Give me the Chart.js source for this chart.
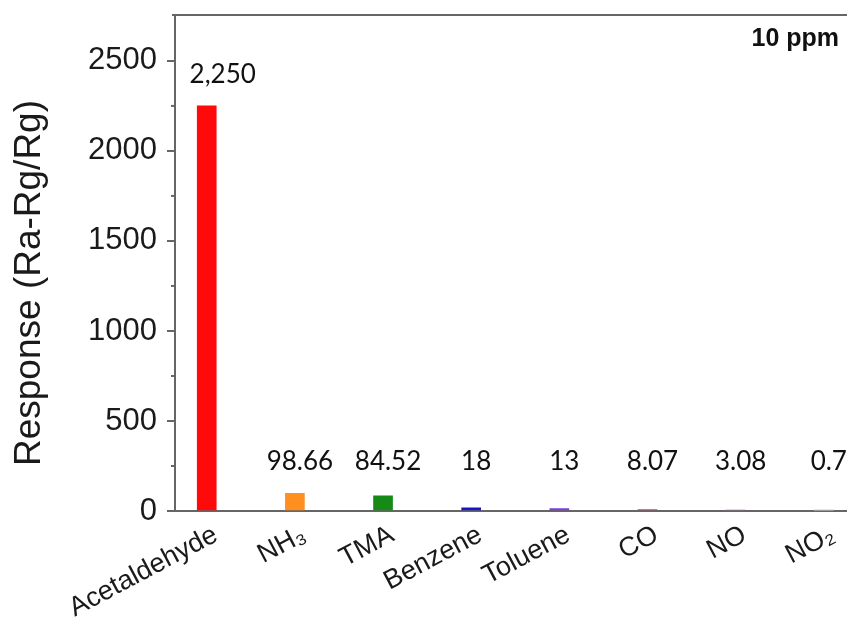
<!DOCTYPE html>
<html>
<head>
<meta charset="utf-8">
<script src="https://cdn.jsdelivr.net/npm/chart.js@4.4.1/dist/chart.umd.min.js"></script>
<style>
  body { margin: 0; background: #fff; overflow: hidden; }
  #wrap { width: 847px; height: 622px; }
</style>
</head>
<body>
<div id="wrap"><canvas id="gasChart" width="847" height="622"></canvas></div>
<script>
// gases tested at 10 ppm
const categories = ['Acetaldehyde', 'NH₃', 'TMA', 'Benzene', 'Toluene', 'CO', 'NO', 'NO₂'];
const responses = [2250, 98.66, 84.52, 18, 13, 8.07, 3.08, 0.7];
const valueLabels = ['2,250', '98.66', '84.52', '18', '13', '8.07', '3.08', '0.7'];
const barColors = ['#ff0a0a', '#ff8f1f', '#168a16', '#1616c4', '#7e3fd2', '#c2407e', '#7a6a7a', '#9a9a9a'];
const yTicks = [0, 500, 1000, 1500, 2000, 2500];
const yMinorTicks = [250, 750, 1250, 1750, 2250];

const axisColor = '#666';
const sansFont = '"Liberation Sans", Arial, sans-serif';

// extra drawing: top frame line, minor ticks, value labels, y title, "10 ppm"
const extras = {
    id: 'extras',
    afterDatasetsDraw(chart) {
        const ctx = chart.ctx;
        const area = chart.chartArea;
        const xs = chart.scales.x;
        const ys = chart.scales.y;
        ctx.save();

        // top frame, and both horizontal lines run off the right edge
        ctx.strokeStyle = axisColor;
        ctx.lineWidth = 2;
        ctx.beginPath();
        ctx.moveTo(area.left - 3, area.top);
        ctx.lineTo(chart.width, area.top);
        ctx.moveTo(area.right - 1, area.bottom);
        ctx.lineTo(chart.width, area.bottom);
        ctx.stroke();

        // minor ticks
        yMinorTicks.forEach(v => {
            const py = ys.getPixelForValue(v);
            ctx.beginPath();
            ctx.moveTo(area.left - 4, py);
            ctx.lineTo(area.left, py);
            ctx.stroke();
        });

        // values over the bars
        ctx.fillStyle = '#111';
        ctx.font = '26px Lato, "Open Sans", sans-serif';
        ctx.textAlign = 'center';
        ctx.textBaseline = 'middle';
        responses.forEach((v, i) => {
            const shift = i === 0 ? 16 : 5;
            const px = xs.getPixelForValue(i) + shift;
            const py = ys.getPixelForValue(Math.max(v, 100)) - 31;
            ctx.fillText(valueLabels[i], px, py);
        });

        // y axis title
        ctx.save();
        ctx.translate(30, 283);
        ctx.rotate(-Math.PI / 2);
        ctx.font = '37px ' + sansFont;
        ctx.fillStyle = '#1a1a1a';
        ctx.fillText('Response (Ra-Rg/Rg)', 0, 0);
        ctx.restore();

        // concentration note
        ctx.font = 'bold 25px ' + sansFont;
        ctx.textAlign = 'right';
        ctx.fillStyle = '#111';
        ctx.fillText('10 ppm', 839, 39);

        ctx.restore();
    }
};

const ctx = document.getElementById('gasChart').getContext('2d');
const chart = new Chart(ctx, {
    type: 'bar',
    data: {
        datasets: [{
            label: 'Response',
            data: responses.map((v, i) => ({ x: i, y: v })),
            backgroundColor: barColors,
            borderWidth: 0,
            barThickness: 19
        }]
    },
    options: {
        responsive: false,
        animation: false,
        layout: { padding: { top: 15, right: 0, left: 0, bottom: 0 } },
        plugins: {
            legend: { display: false },
            tooltip: { enabled: false }
        },
        scales: {
            x: {
                type: 'linear',
                offset: false,
                min: -0.36,
                max: 7.14,
                afterBuildTicks: scale => {
                    scale.ticks = categories.map((c, i) => ({ value: i }));
                },
                afterFit: scale => {
                    scale.height = 111;
                    scale.paddingLeft = 0;
                },
                grid: { display: false, drawTicks: false, offset: false },
                border: { display: true, color: axisColor, width: 2 },
                ticks: {
                    autoSkip: false,
                    minRotation: 28,
                    maxRotation: 28,
                    padding: 8,
                    labelOffset: 9,
                    color: '#1a1a1a',
                    font: { family: sansFont, size: 27 },
                    callback: v => categories[v]
                }
            },
            y: {
                min: 0,
                max: 2755,
                afterBuildTicks: scale => {
                    scale.ticks = yTicks.map(v => ({ value: v }));
                },
                afterFit: scale => {
                    scale.width = 175;
                    scale.paddingTop = 0;
                    scale.paddingBottom = 0;
                },
                grid: {
                    drawOnChartArea: false,
                    drawTicks: true,
                    tickLength: 8,
                    color: axisColor,
                    lineWidth: 2
                },
                border: { display: true, color: axisColor, width: 2 },
                ticks: {
                    padding: 10,
                    color: '#1a1a1a',
                    font: { family: sansFont, size: 31 },
                    callback: v => String(v)
                }
            }
        }
    },
    plugins: [extras]
});
</script>
</body>
</html>
